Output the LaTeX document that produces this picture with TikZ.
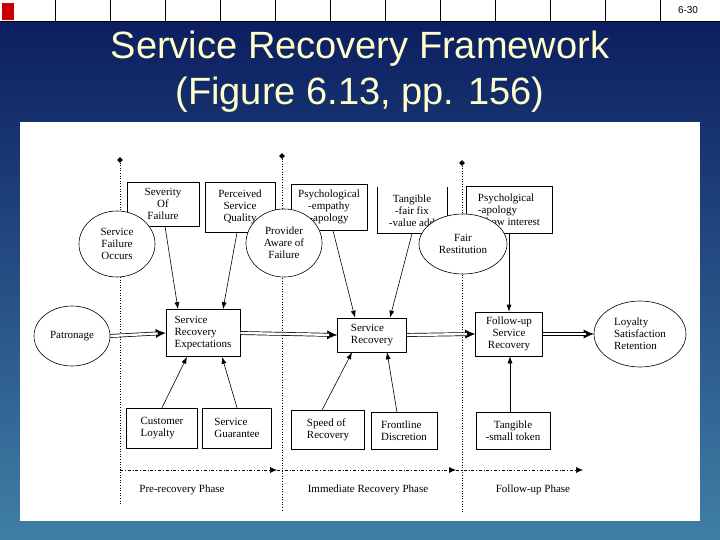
\documentclass[tikz,border=0pt]{standalone}
\usepackage{fontspec}
\setmainfont{Liberation Serif}
\newfontfamily\sansf{Liberation Sans}
\usetikzlibrary{shapes.geometric,arrows.meta}
\definecolor{titley}{HTML}{FFFFCC}
\definecolor{bgtop}{HTML}{0A1A5E}
\definecolor{bgbot}{HTML}{3F7FA6}
\begin{document}
\begin{tikzpicture}[x=1pt,y=-1pt,line width=0.6pt,
  box/.style={draw,fill=white,inner sep=2pt,font=\fontsize{11}{12}\selectfont},
  ell/.style={draw,fill=white,ellipse,inner sep=0pt,align=center,font=\fontsize{11}{12}\selectfont},
  arr/.style={-{Latex[length=7pt,width=5pt]}},
  dblhead/.style={-{Latex[length=10pt,width=9pt]}},
  dblbody/.style={draw=black,line width=0.7pt,double=white,double distance=2.4pt,shorten >=8pt},
  dotl/.style={dotted},
  phase/.style={dash dot,-{Latex[length=7pt,width=6pt]}},
  lbl/.style={font=\fontsize{11}{12}\selectfont}]
\useasboundingbox (0,0) rectangle (720,540);
\shade[top color=bgtop,bottom color=bgbot] (0,0) rectangle (720,540);
% top bar
\fill[white] (0,0) rectangle (720,21);
\draw (0,21) -- (720,21);
\foreach \i in {1,...,12} \draw (\i*55,0) -- (\i*55,21);
\fill[red!80!black] (2,3) rectangle (14,20);
\node[font=\sansf\fontsize{10}{12}\selectfont] (pg) at (688,10) {6-30};
% title
\node[font=\sansf\fontsize{38}{46}\selectfont,text=titley,align=center] (title) at (360,72) {Service Recovery Framework\\(Figure 6.13, pp. 156)};
% panel
\fill[white] (20,122) rectangle (700,521);
% dotted lines and diamonds
\draw[dotl] (120,160) -- (120,505);
\draw[dotl] (282,156) -- (282,510);
\draw[dotl] (462,163) -- (462,512);
\node[diamond,fill=black,inner sep=0pt,minimum size=6pt] (d1) at (120,160) {};
\node[diamond,fill=black,inner sep=0pt,minimum size=6pt] (d2) at (282,156) {};
\node[diamond,fill=black,inner sep=0pt,minimum size=6pt] (d3) at (462,163) {};
% top boxes
\node[box,minimum width=72pt,minimum height=44pt,align=center] (sev) at (163,204) {Severity\\Of\\Failure};
\node[box,minimum width=70pt,minimum height=50pt,align=center,anchor=north] (psq) at (240,182) {Perceived\\Service\\Quality};
\node[box,minimum width=76pt,minimum height=46pt,align=center,anchor=north] (psy) at (329,184) {Psychological\\-empathy\\-apology};
\node[inner sep=2pt,minimum width=69pt,minimum height=46pt,align=center,anchor=north,lbl,fill=white] (tan) at (412,187) {Tangible\\-fair fix\\-value add};
\draw (tan.north west) -- (tan.south west) -- (tan.south east) -- (tan.north east);
\node[box,minimum width=86pt,minimum height=47pt,align=left,anchor=north] (psy2) at (509,186) {Psycholgical\\-apology\\-show interest};
% ellipses
\node[ell,minimum width=76pt,minimum height=66pt] (sfo) at (117,244) {Service\\Failure\\Occurs};
\node[ell,minimum width=76pt,minimum height=68pt] (paf) at (284,243) {Provider\\Aware of\\Failure};
\node[ell,minimum width=88pt,minimum height=60pt] (fr) at (463,244) {Fair\\Restitution};
% middle row
\node[ell,minimum width=76pt,minimum height=60pt] (pat) at (72,336) {Patronage};
\node[box,minimum width=74pt,minimum height=47pt,align=left] (sre) at (203,333) {Service\\Recovery\\Expectations};
\node[box,minimum width=69pt,minimum height=34pt,align=left] (sr) at (372,335) {Service\\Recovery};
\node[box,minimum width=67pt,minimum height=44pt,align=center] (fsr) at (509,334) {Follow-up\\Service\\Recovery};
\node[ell,minimum width=92pt,minimum height=66pt,align=left] (loy) at (640,334) {Loyalty\\Satisfaction\\Retention};
% bottom boxes
\node[box,minimum width=71pt,minimum height=40pt,align=left] (cl) at (162,428) {Customer\\Loyalty};
\node[box,minimum width=69pt,minimum height=40pt,align=left] (sg) at (237,428) {Service\\Guarantee};
\node[box,minimum width=73pt,minimum height=39pt,align=left] (sp) at (328,430) {Speed of\\Recovery};
\node[box,minimum width=66pt,minimum height=37pt,align=left] (fd) at (404,431) {Frontline\\Discretion};
\node[box,minimum width=74pt,minimum height=37pt,align=center] (tt) at (513,431) {Tangible\\-small token};
% arrows
\draw[arr] ([xshift=2pt]sev.south) -- ([xshift=-25pt]sre.north);
\draw[arr] ([xshift=-3pt]psq.south) -- ([xshift=20pt]sre.north);
\draw[arr] ([xshift=4pt]psy.south) -- ([xshift=-17pt]sr.north);
\draw[arr] (tan.south) -- ([xshift=18pt]sr.north);
\draw[arr] (psy2.south) -- (fsr.north);
\draw[arr] (cl.north) -- ([xshift=-16pt]sre.south);
\draw[arr] (sg.north) -- ([xshift=19pt]sre.south);
\draw[arr] ([xshift=-6pt]sp.north) -- ([xshift=-20pt]sr.south);
\draw[arr] ([xshift=-7pt]fd.north) -- ([xshift=15pt]sr.south);
\draw[arr] ([xshift=-3pt]tt.north) -- ([xshift=1pt]fsr.south);
% double arrows
\draw[dblhead] (pat.east) -- (sre.west);
\draw[dblbody] (pat.east) -- (sre.west);
\draw[dblhead] (sre.east) -- (sr.west);
\draw[dblbody] (sre.east) -- (sr.west);
\draw[dblhead] (sr.east) -- (fsr.west);
\draw[dblbody] (sr.east) -- (fsr.west);
\draw[dblhead] (fsr.east) -- (loy.west);
\draw[dblbody] (fsr.east) -- (loy.west);
% phases
\coordinate (p0) at (120,470);
\coordinate (p1) at (277,470);
\coordinate (p2) at (456,470);
\coordinate (p3) at (583,470);
\draw[phase] (p0) -- (p1);
\draw[phase] (p1) -- (p2);
\draw[phase] (p2) -- (p3);
\node[lbl] (ph1) at (182,490) {Pre-recovery Phase};
\node[lbl] (ph2) at (368,490) {Immediate Recovery Phase};
\node[lbl] (ph3) at (533,490) {Follow-up Phase};
\end{tikzpicture}
\end{document}
